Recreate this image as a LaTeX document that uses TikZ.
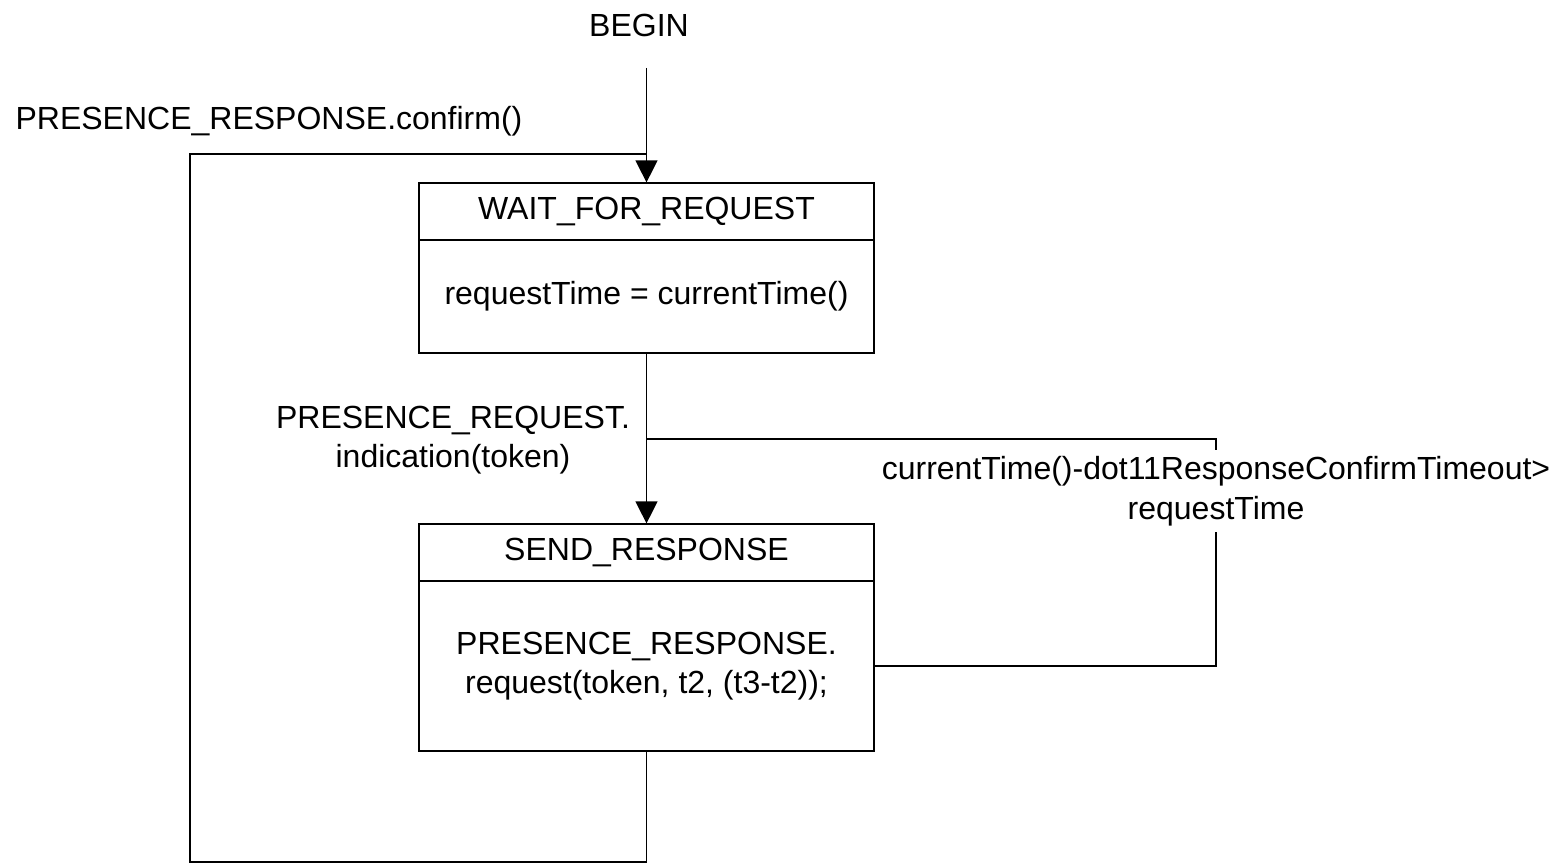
\documentclass[tikz,border=0pt]{standalone}
\usepackage{fontspec}
\setmainfont{Liberation Sans}
\usetikzlibrary{arrows.meta}
\begin{document}
\begin{tikzpicture}[x=1pt,y=-1pt,
  txt/.style={font=\fontsize{32}{39.5}\selectfont,inner sep=0pt,align=center},
  box/.style={draw,line width=1.2pt,minimum width=455pt,inner sep=0pt,font=\fontsize{32}{39.5}\selectfont,align=center},
  conn/.style={draw,line width=1.2pt},
  arr/.style={conn,-{Triangle[length=22pt,width=22pt]}}]
\useasboundingbox (0,0) rectangle (1560,864);
% boxes
\node[box,minimum height=57pt] (wfrh) at (646.5,211.5) {\raisebox{-2pt}{WAIT\_FOR\_REQUEST}};
\node[box,minimum height=113pt] (wfrb) at (646.5,296.5) {\raisebox{-2pt}{requestTime = currentTime()}};
\node[box,minimum height=57pt] (srh) at (646.5,552.5) {\raisebox{-2pt}{SEND\_RESPONSE}};
\node[box,minimum height=170pt] (srb) at (646.5,666) {\raisebox{-2pt}{\begin{tabular}{@{}c@{}}PRESENCE\_RESPONSE.\\[-0.5pt]request(token, t2, (t3-t2));\end{tabular}}};
% texts
\node[txt] (begin) at (639,25) {BEGIN};
\node[txt] (lconf) at (269,121) {PRESENCE\_RESPONSE.confirm()};
\node[txt] (lind) at (453,440) {PRESENCE\_REQUEST.\\indication(token)};
% coordinates
\coordinate (b0) at (646.5,68);
\coordinate (j1) at (646.5,154);
\coordinate (j2) at (646.5,439);
\coordinate (l1) at (190,154);
\coordinate (l2) at (190,862);
\coordinate (l3) at (646.5,862);
\coordinate (r1) at (1216,439);
\coordinate (r2) at (1216,666);
% connectors
\draw[arr] (b0) -- (wfrh.north);
\draw[conn] (srb.south) -- (l3) -- (l2) -- (l1) -- (j1);
\draw[arr] (wfrb.south) -- (srh.north);
\draw[conn] (srb.east |- r2) -- (r2) -- (r1) -- (j2);
\node[txt,fill=white,inner ysep=6pt] (ltime) at (1216,491) {currentTime()-dot11ResponseConfirmTimeout>\\requestTime};
\end{tikzpicture}
\end{document}
